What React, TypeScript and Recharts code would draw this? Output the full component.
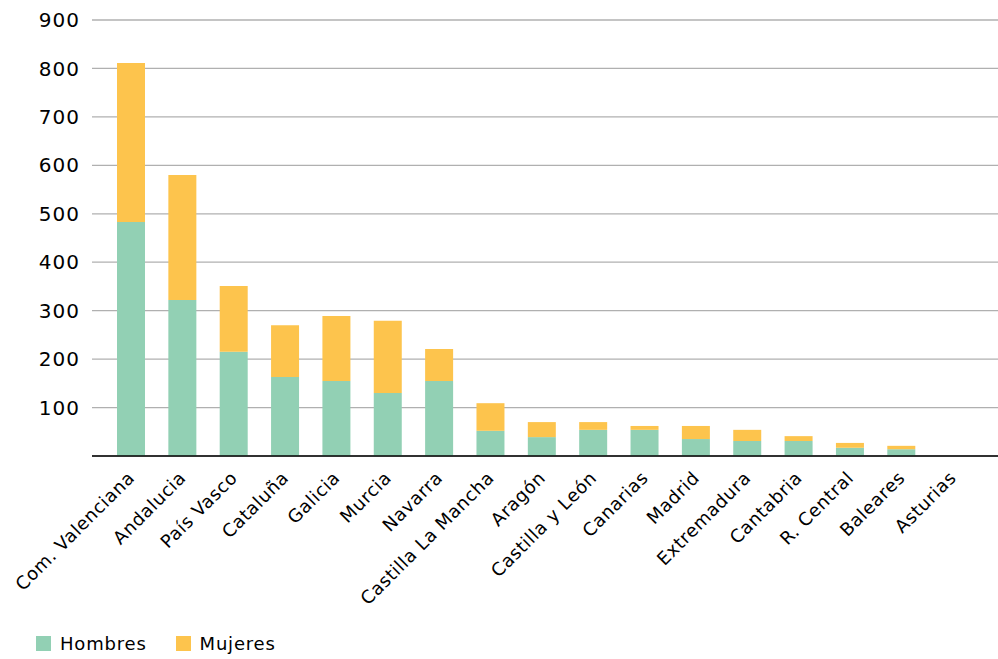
import { BarChart, Bar, XAxis, YAxis, CartesianGrid } from 'recharts';

const regiones = [
  'Com. Valenciana', 'Andalucia', 'País Vasco', 'Cataluña', 'Galicia', 'Murcia',
  'Navarra', 'Castilla La Mancha', 'Aragón', 'Castilla y León', 'Canarias',
  'Madrid', 'Extremadura', 'Cantabria', 'R. Central', 'Baleares', 'Asturias',
];
const hombres = [483, 322, 215, 163, 155, 130, 155, 52, 39, 54, 54, 35, 31, 31, 17, 14, 0];
const mujeres = [328, 258, 136, 107, 134, 149, 66, 57, 31, 16, 8, 27, 23, 10, 10, 7, 0];
const yTicks = [100, 200, 300, 400, 500, 600, 700, 800, 900];

const VERDE = '#92d0b4';
const AMARILLO = '#fdc44d';
const FUENTE = '"DejaVu Sans", sans-serif';

const data = regiones.map((name, i) => ({ name, Hombres: hombres[i], Mujeres: mujeres[i] }));

// etiqueta del eje X girada 45 grados, terminando bajo la barra
const TickRegion = ({ x, y, payload }: any) => (
  <text
    x={x + 5}
    y={y + 15}
    textAnchor="end"
    transform={`rotate(-45, ${x + 5}, ${y + 15})`}
    fontSize={18}
    letterSpacing={0.6}
    fontFamily={FUENTE}
    fill="#000"
  >
    {payload.value}
  </text>
);

const series: [string, string][] = [['Hombres', VERDE], ['Mujeres', AMARILLO]];

export default function App() {
  return (
    <div style={{ position: 'absolute', left: 0, top: 0, width: 998, height: 659, background: '#fff' }}>
      <BarChart
        width={998}
        height={659}
        data={data}
        margin={{ top: 20, right: 0, left: 0, bottom: 53 }}
        barSize={28}
      >
        <CartesianGrid vertical={false} stroke="#b0b0b0" strokeWidth={1.3} />
        <XAxis
          dataKey="name"
          interval={0}
          height={150}
          tick={<TickRegion />}
          tickLine={false}
          axisLine={{ stroke: '#000', strokeWidth: 1.5 }}
          padding={{ left: 13, right: 20 }}
        />
        <YAxis
          width={92}
          domain={[0, 900]}
          ticks={yTicks}
          tickLine={false}
          axisLine={false}
          tickSize={0}
          tickMargin={12}
          tick={{ fontSize: 20, fontFamily: FUENTE, fill: '#000', letterSpacing: 1 }}
        />
        <Bar dataKey="Hombres" stackId="a" fill={VERDE} isAnimationActive={false} />
        <Bar dataKey="Mujeres" stackId="a" fill={AMARILLO} isAnimationActive={false} />
      </BarChart>
      {/* leyenda abajo a la izquierda */}
      <div
        style={{
          position: 'absolute', left: 36, top: 633, display: 'flex',
          fontFamily: FUENTE, fontSize: 18, letterSpacing: 0.8, color: '#000',
        }}
      >
        {series.map(([label, color]) => (
          <div key={label} style={{ display: 'flex', alignItems: 'center', marginRight: 29 }}>
            <span style={{ width: 15, height: 15, background: color, marginRight: 9 }} />
            {label}
          </div>
        ))}
      </div>
    </div>
  );
}
